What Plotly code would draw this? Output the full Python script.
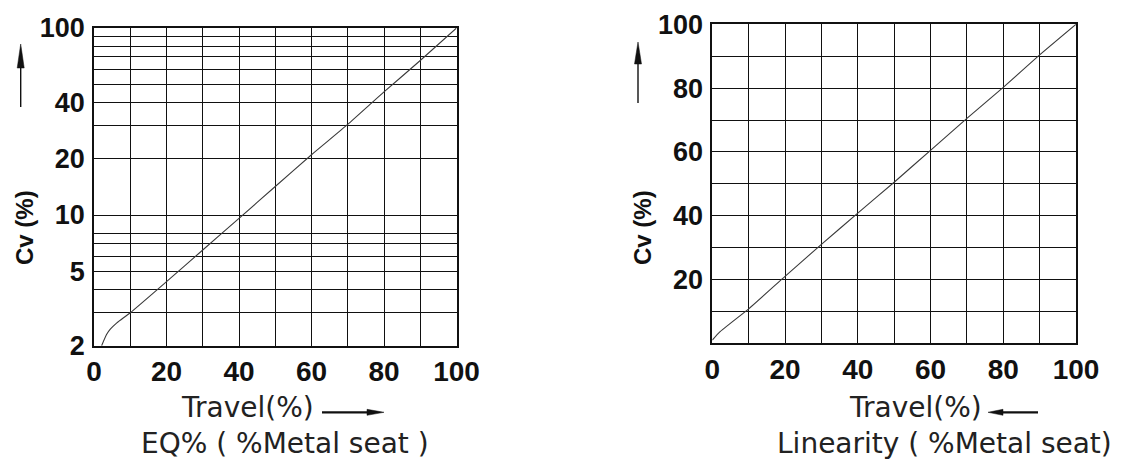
import math
import plotly.graph_objects as go

# Equal-percentage characteristic (metal seat): travel % vs Cv %
eq_travel = [2.1, 3.5, 4.5, 6.3, 10, 20, 30, 40, 50, 60, 70, 80, 90, 100]
eq_cv = [2.0, 2.3, 2.45, 2.65, 3.0, 4.4, 6.5, 9.6, 14.2, 21, 30.5, 45.5, 67, 100]

# Linear characteristic (metal seat): travel % vs Cv %
lin_travel = [0, 2, 10, 20, 30, 40, 50, 60, 70, 80, 90, 100]
lin_cv = [1, 3.5, 10.8, 21, 31, 40.8, 50.5, 60.5, 70.5, 80.2, 90.4, 100]

# Axis ticks
travel_ticks = [0, 20, 40, 60, 80, 100]
eq_cv_ticks = [2, 5, 10, 20, 40, 100]
eq_cv_grid = [3, 4, 6, 7, 8, 30, 50, 60, 70, 80, 90]
lin_cv_ticks = [20, 40, 60, 80, 100]

W, H = 1125, 461
INK = "#111111"
CURVE = "#3a3a3a"
TICK_FONT = dict(family="Liberation Sans, Arial, sans-serif", size=27, color=INK, weight="bold")
LABEL_FONT = dict(family="DejaVu Sans, sans-serif", size=28, color="#222222")


def px(x):
    return x / W


def py(y):
    return 1 - y / H


fig = go.Figure()
fig.add_trace(go.Scatter(x=eq_travel, y=eq_cv, mode="lines", xaxis="x", yaxis="y",
                         line=dict(color=CURVE, width=1.1, shape="spline", smoothing=0.5),
                         hoverinfo="skip", showlegend=False))
fig.add_trace(go.Scatter(x=lin_travel, y=lin_cv, mode="lines", xaxis="x2", yaxis="y2",
                         line=dict(color=CURVE, width=1.1, shape="spline", smoothing=0.4),
                         hoverinfo="skip", showlegend=False))

common_x = dict(
    range=[0, 100], tickmode="array", tickvals=travel_ticks,
    showgrid=True, gridcolor=INK, gridwidth=1.3,
    minor=dict(dtick=10, tick0=0, showgrid=True, gridcolor=INK, gridwidth=1.3),
    showline=True, linecolor=INK, linewidth=1.6, mirror=True,
    zeroline=False, ticks="", tickfont=dict(TICK_FONT, size=28),
    automargin=False, fixedrange=True,
)
common_y = dict(
    showgrid=True, gridcolor=INK, gridwidth=1.3,
    showline=True, linecolor=INK, linewidth=1.6, mirror=True,
    zeroline=False, ticks="", tickfont=TICK_FONT, ticklabelstandoff=2,
    automargin=False, fixedrange=True,
)

fig.update_layout(
    width=W, height=H,
    margin=dict(l=0, r=0, t=0, b=0, pad=0, autoexpand=False),
    paper_bgcolor="white", plot_bgcolor="white",
    xaxis=dict(common_x, domain=[px(94), px(456.5)], anchor="y"),
    yaxis=dict(common_y, domain=[py(345.7), py(28)], anchor="x",
               type="log", range=[math.log10(2), 2],
               tickmode="array", tickvals=eq_cv_ticks,
               ticktext=[str(v) for v in eq_cv_ticks],
               minor=dict(tickmode="array", tickvals=eq_cv_grid, showgrid=True,
                          gridcolor=INK, gridwidth=1.3)),
    xaxis2=dict(common_x, domain=[px(712.3), px(1076)], anchor="y2"),
    yaxis2=dict(common_y, domain=[py(343.3), py(24.3)], anchor="x2",
                range=[0, 100], tickmode="array", tickvals=lin_cv_ticks,
                minor=dict(dtick=10, tick0=0, showgrid=True, gridcolor=INK, gridwidth=1.3)),
)

annotations = [
    # axis titles
    dict(x=px(24), y=py(228), text="Cv (%)", textangle=-90,
         font=dict(TICK_FONT, size=24)),
    dict(x=px(642), y=py(228), text="Cv (%)", textangle=-90,
         font=dict(TICK_FONT, size=24)),
    dict(x=px(247), y=py(407), text="Travel(%)", font=LABEL_FONT),
    dict(x=px(285), y=py(443), text="EQ% ( %Metal seat )", font=LABEL_FONT),
    dict(x=px(915), y=py(407), text="Travel(%)", font=LABEL_FONT),
    dict(x=px(944), y=py(443), text="Linearity ( %Metal seat)", font=LABEL_FONT),
]
for a in annotations:
    a.update(xref="paper", yref="paper", showarrow=False,
             xanchor="center", yanchor="middle")
fig.update_layout(annotations=annotations)


# direction arrows: thin shaft plus slender filled head (pixel geometry)
def add_arrow(x0, y0, x1, y1, head_len, head_w, width):
    dx, dy = x1 - x0, y1 - y0
    n = math.hypot(dx, dy)
    ux, uy = dx / n, dy / n
    bx, by = x1 - ux * head_len, y1 - uy * head_len
    fig.add_shape(type="line", xref="paper", yref="paper",
                  x0=px(x0), y0=py(y0), x1=px(bx), y1=py(by),
                  line=dict(color=INK, width=width))
    lx, ly = bx - uy * head_w / 2, by + ux * head_w / 2
    rx, ry = bx + uy * head_w / 2, by - ux * head_w / 2
    path = (f"M {px(x1)},{py(y1)} L {px(lx)},{py(ly)} "
            f"L {px(rx)},{py(ry)} Z")
    fig.add_shape(type="path", xref="paper", yref="paper", path=path,
                  fillcolor=INK, line=dict(color=INK, width=0.5))


add_arrow(20.7, 107, 20.7, 44, 24, 7, 1.4)      # left chart, Cv upward
add_arrow(638, 103, 638, 42, 22, 7, 1.4)        # right chart, Cv upward
add_arrow(322, 412.3, 384, 412.3, 17, 6, 2.2)   # left chart, travel to the right
add_arrow(1038, 412.3, 988, 412.3, 15, 6, 2.2)  # right chart, travel to the left

fig.write_html("out.html", config={"displayModeBar": False})
